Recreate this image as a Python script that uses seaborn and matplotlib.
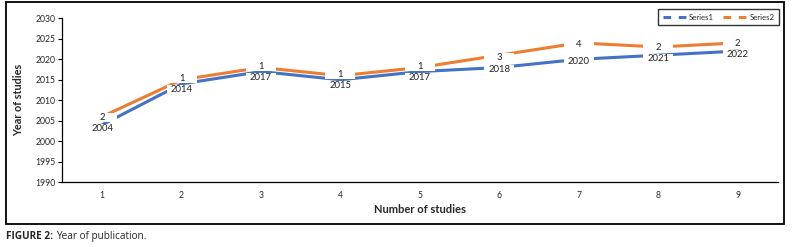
import matplotlib
matplotlib.use("Agg")
import matplotlib.pyplot as plt
from matplotlib.lines import Line2D
from matplotlib.patches import Rectangle
import pandas as pd
import seaborn as sns

# data (Excel stacked line: Series2 sits on top of Series1)
studies = [1, 2, 3, 4, 5, 6, 7, 8, 9]
years = [2004, 2014, 2017, 2015, 2017, 2018, 2020, 2021, 2022]
counts = [2, 1, 1, 1, 1, 3, 4, 2, 2]
series_names = ["Series1", "Series2"]
y_ticks = [1990, 1995, 2000, 2005, 2010, 2015, 2020, 2025, 2030]

BLUE = "#4472c4"
ORANGE = "#ed7d31"

stacked = [y + c for y, c in zip(years, counts)]
df = pd.DataFrame({
    "study": studies * 2,
    "value": years + stacked,
    "series": [series_names[0]] * len(studies) + [series_names[1]] * len(studies),
})

sns.set_theme(style="white")
plt.rcParams["font.family"] = ["Lato", "DejaVu Sans"]

fig = plt.figure(figsize=(7.95, 2.47), dpi=100)
ax = fig.add_axes([0.0784, 0.262, 0.8996, 0.664])

sns.lineplot(data=df, x="study", y="value", hue="series",
             palette=[BLUE, ORANGE], linewidth=2.2, legend=False, ax=ax)

ax.set_xlim(0.5, 9.5)
ax.set_ylim(1990, 2030)

# data labels: centred a little below each point, pushed apart when too close.
# Excel draws a white label box that cuts the lines, so do the same.
px = 72 / fig.dpi
min_gap = 11
box_w, box_h = 30, 9
W, H = fig.bbox.width, fig.bbox.height
for s, y, top, c in zip(studies, years, stacked, counts):
    x_pix, p1 = ax.transData.transform((s, y))
    p2 = ax.transData.transform((s, top))[1]
    c1, c2 = p1 - 2, p2 - 2
    if c2 - c1 < min_gap:
        mid = (c1 + c2) / 2
        c1, c2 = mid - min_gap / 2, mid + min_gap / 2
    for val, centre, point, txt in [(y, c1, p1, str(y)), (top, c2, p2, str(c))]:
        ax.add_patch(Rectangle(((x_pix - box_w / 2) / W, (centre - box_h / 2) / H),
                               box_w / W, box_h / H, transform=fig.transFigure,
                               facecolor="white", edgecolor="none", zorder=4,
                               clip_on=False))
        ax.annotate(txt, xy=(s, val), xytext=(0, (centre - point) * px),
                    textcoords="offset points", ha="center", va="center",
                    fontsize=6.8, color="#222222", zorder=5)

ax.set_yticks(y_ticks)
ax.set_xticks(studies)
ax.set_xticks([s + 0.5 for s in [0] + studies], minor=True)
ax.tick_params(axis="x", which="major", length=0, labelsize=6.2, pad=6)
ax.tick_params(axis="x", which="minor", length=3, width=0.8, color="black",
               direction="out")
ax.tick_params(axis="y", length=3, width=0.8, color="black", direction="out",
               labelsize=6.2, pad=2, left=True)
for side in ["top", "right"]:
    ax.spines[side].set_visible(False)
for side in ["left", "bottom"]:
    ax.spines[side].set_color("black")
    ax.spines[side].set_linewidth(0.9)

ax.set_xlabel("Number of studies", fontsize=8, fontweight="bold", labelpad=3)
ax.set_ylabel("Year of studies", fontsize=7.8, fontweight="bold", labelpad=8)

handles = [Line2D([0], [0], color=BLUE, lw=2.2, linestyle=(0, (2.5, 2.5))),
           Line2D([0], [0], color=ORANGE, lw=2.2, linestyle=(0, (2.5, 2.5)))]
leg = fig.legend(handles, series_names, loc="upper right",
                 bbox_to_anchor=(0.985, 0.978), ncol=2, fontsize=5.6,
                 frameon=True, fancybox=False, handlelength=3.0,
                 columnspacing=1.2, handletextpad=0.4, borderpad=0.55)
leg.get_frame().set_edgecolor("black")
leg.get_frame().set_linewidth(1.0)

fig.patches.append(Rectangle((0.0075, 0.093), 0.9786, 0.899, transform=fig.transFigure,
                             fill=False, edgecolor="black", linewidth=1.3))

cap_font = ["Open Sans", "DejaVu Sans"]
head = fig.text(0.0075, 0.042, "FIGURE 2:", fontsize=7.2, fontweight="bold",
                family=cap_font, ha="left", va="center")
fig.canvas.draw()
head_box = head.get_window_extent()
fig.text((head_box.x1 + 3) / W, 0.042, "Year of publication.",
         fontsize=7.2, family=cap_font, ha="left", va="center")

fig.savefig("out.png", dpi=100)
